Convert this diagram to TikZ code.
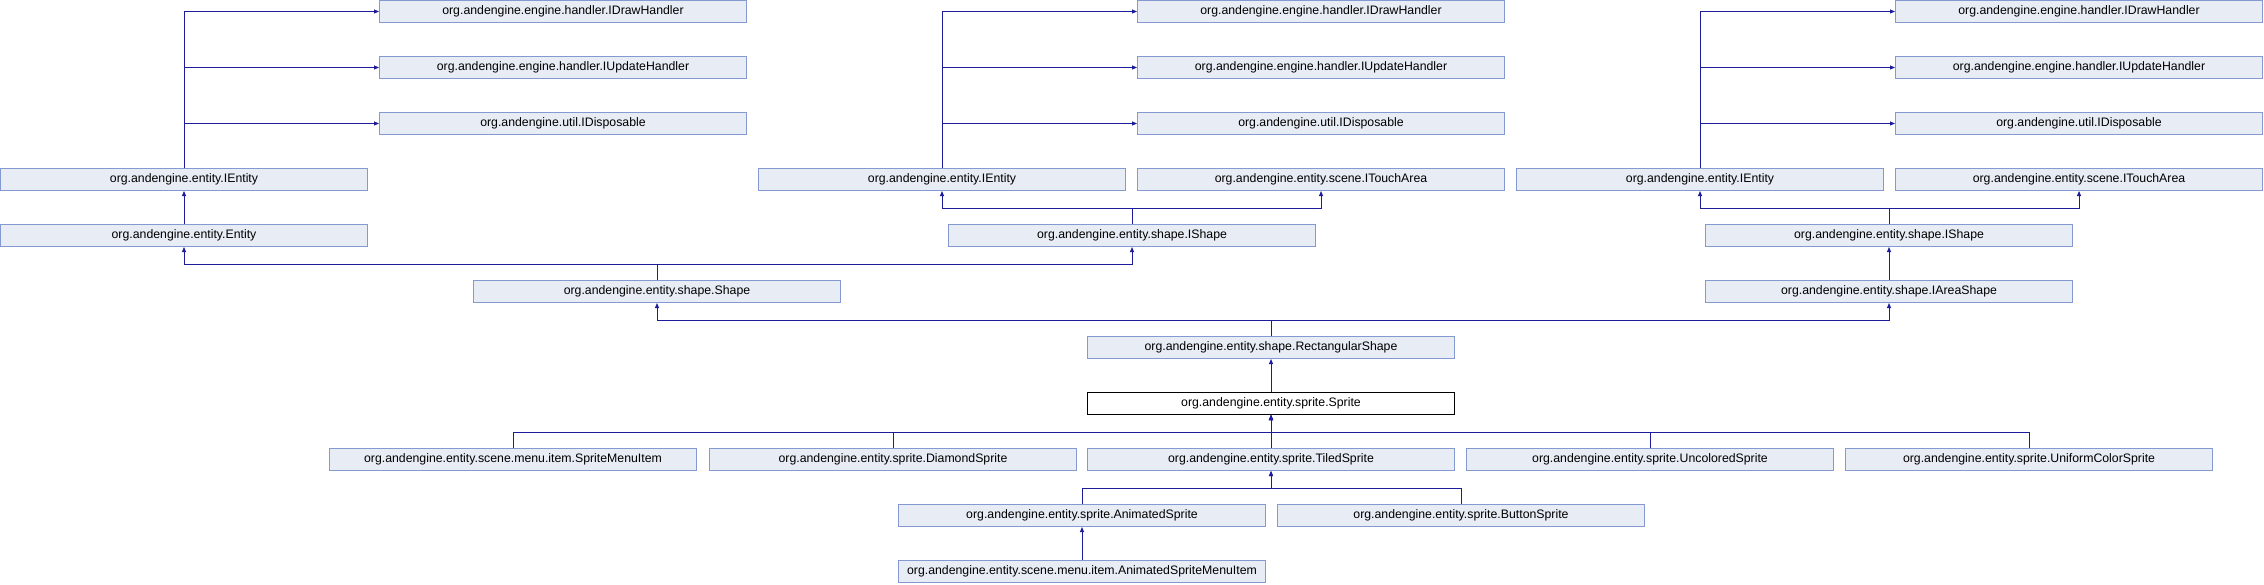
\documentclass[tikz,border=0pt]{standalone}
\usepackage{fontspec}
\setmainfont{Liberation Sans}
\usepackage{xcolor}
\usetikzlibrary{arrows.meta,positioning,calc}

\definecolor{boxfill}{HTML}{E8ECF5}
\definecolor{boxline}{HTML}{8499D1}
\definecolor{linkcol}{HTML}{1C1C9C}

\begin{document}
\begin{tikzpicture}[x=1pt,y=1pt,
  cls/.style={rectangle, draw=boxline, fill=boxfill, line width=1pt, minimum width=367pt, minimum height=22pt, inner sep=0pt, font=\fontsize{12.3}{14}\selectfont},
  cur/.style={cls, draw=black, fill=white},
  inh/.style={draw=linkcol, line width=0.9pt, -{Triangle[length=5pt,width=4pt]}}]
\useasboundingbox (0,0) rectangle (2264,-584);

% first IEntity group
\node[cls] (drawA) at (563,-11.5) {org.andengine.engine.handler.IDrawHandler};
\node[cls] (updA) at (563,-67.5) {org.andengine.engine.handler.IUpdateHandler};
\node[cls] (dispA) at (563,-123.5) {org.andengine.util.IDisposable};
\node[cls] (ientA) at (184,-179.5) {org.andengine.entity.IEntity};
\node[cls] (entity) at (184,-235.5) {org.andengine.entity.Entity};

% second IEntity group
\node[cls] (drawB) at (1321,-11.5) {org.andengine.engine.handler.IDrawHandler};
\node[cls] (updB) at (1321,-67.5) {org.andengine.engine.handler.IUpdateHandler};
\node[cls] (dispB) at (1321,-123.5) {org.andengine.util.IDisposable};
\node[cls] (ientB) at (942,-179.5) {org.andengine.entity.IEntity};
\node[cls] (touchB) at (1321,-179.5) {org.andengine.entity.scene.ITouchArea};
\node[cls] (ishapeB) at (1132,-235.5) {org.andengine.entity.shape.IShape};

% third IEntity group
\node[cls] (drawC) at (2079,-11.5) {org.andengine.engine.handler.IDrawHandler};
\node[cls] (updC) at (2079,-67.5) {org.andengine.engine.handler.IUpdateHandler};
\node[cls] (dispC) at (2079,-123.5) {org.andengine.util.IDisposable};
\node[cls] (ientC) at (1700,-179.5) {org.andengine.entity.IEntity};
\node[cls] (touchC) at (2079,-179.5) {org.andengine.entity.scene.ITouchArea};
\node[cls] (ishapeC) at (1889,-235.5) {org.andengine.entity.shape.IShape};
\node[cls] (iarea) at (1889,-291.5) {org.andengine.entity.shape.IAreaShape};

\node[cls] (shape) at (657,-291.5) {org.andengine.entity.shape.Shape};
\node[cls] (rectshape) at (1271,-347.5) {org.andengine.entity.shape.RectangularShape};
\node[cur] (sprite) at (1271,-403.5) {org.andengine.entity.sprite.Sprite};

% subclasses
\node[cls] (menuitem) at (513,-459.5) {org.andengine.entity.scene.menu.item.SpriteMenuItem};
\node[cls] (diamond) at (893,-459.5) {org.andengine.entity.sprite.DiamondSprite};
\node[cls] (tiled) at (1271,-459.5) {org.andengine.entity.sprite.TiledSprite};
\node[cls] (uncolored) at (1650,-459.5) {org.andengine.entity.sprite.UncoloredSprite};
\node[cls] (uniform) at (2029,-459.5) {org.andengine.entity.sprite.UniformColorSprite};
\node[cls] (animated) at (1082,-515.5) {org.andengine.entity.sprite.AnimatedSprite};
\node[cls] (button) at (1461,-515.5) {org.andengine.entity.sprite.ButtonSprite};
\node[cls] (animmenu) at (1082,-571.5) {org.andengine.entity.scene.menu.item.AnimatedSpriteMenuItem};

% junctions
\coordinate (jshape) at (657,-264);
\coordinate (jishapeB) at (1132,-208);
\coordinate (jishapeC) at (1889,-208);
\coordinate (jrect) at (1271,-320);
\coordinate (jsprite) at (1271,-432);
\coordinate (jtiled) at (1271,-488);

\draw[inh] (ientA.north) |- (drawA.west);
\draw[inh] (ientA.north) |- (updA.west);
\draw[inh] (ientA.north) |- (dispA.west);
\draw[inh] (entity.north) -- (ientA.south);

\draw[inh] (ientB.north) |- (drawB.west);
\draw[inh] (ientB.north) |- (updB.west);
\draw[inh] (ientB.north) |- (dispB.west);
\draw[inh] (ishapeB.north) -- (jishapeB) -| (ientB.south);
\draw[inh] (jishapeB) -| (touchB.south);

\draw[inh] (ientC.north) |- (drawC.west);
\draw[inh] (ientC.north) |- (updC.west);
\draw[inh] (ientC.north) |- (dispC.west);
\draw[inh] (ishapeC.north) -- (jishapeC) -| (ientC.south);
\draw[inh] (jishapeC) -| (touchC.south);
\draw[inh] (iarea.north) -- (ishapeC.south);

\draw[inh] (shape.north) -- (jshape) -| (entity.south);
\draw[inh] (jshape) -| (ishapeB.south);
\draw[inh] (rectshape.north) -- (jrect) -| (shape.south);
\draw[inh] (jrect) -| (iarea.south);
\draw[inh] (sprite.north) -- (rectshape.south);

\draw[inh] (menuitem.north) |- (jsprite) -- (sprite.south);
\draw[inh] (diamond.north) |- (jsprite) -- (sprite.south);
\draw[inh] (tiled.north) -- (sprite.south);
\draw[inh] (uncolored.north) |- (jsprite) -- (sprite.south);
\draw[inh] (uniform.north) |- (jsprite) -- (sprite.south);

\draw[inh] (animated.north) |- (jtiled) -- (tiled.south);
\draw[inh] (button.north) |- (jtiled) -- (tiled.south);
\draw[inh] (animmenu.north) -- (animated.south);
\end{tikzpicture}
\end{document}
